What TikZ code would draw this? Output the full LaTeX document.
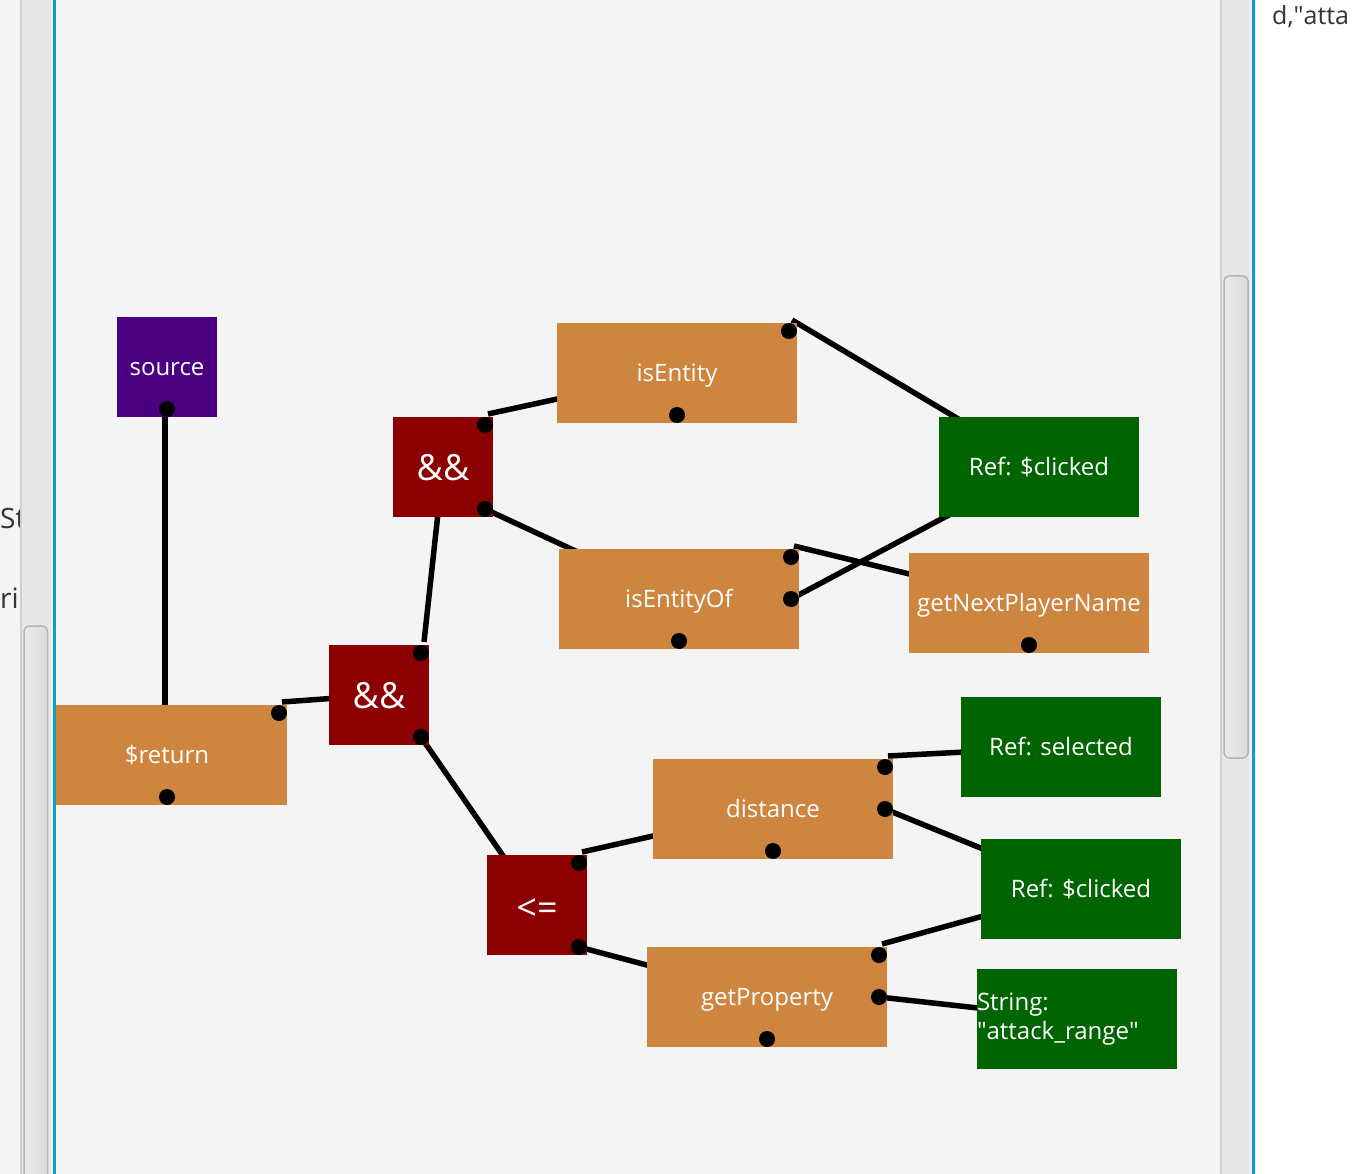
\documentclass[tikz,border=0pt]{standalone}
\usepackage{fontspec}
\setmainfont{Open Sans}
\usetikzlibrary{positioning, calc, backgrounds}

\definecolor{canvasgray}{HTML}{F4F4F4}
\definecolor{fnorange}{HTML}{CD853F}
\definecolor{opred}{HTML}{8B0000}
\definecolor{refgreen}{HTML}{006400}
\definecolor{srcpurple}{HTML}{4B0082}
\definecolor{focusblue}{HTML}{0A9BD0}
\definecolor{trackgray}{HTML}{E7E7E7}
\definecolor{trackedge}{HTML}{D0D0D0}
\definecolor{thumbedge}{HTML}{B4B4B4}
\definecolor{codegray}{HTML}{333333}

\begin{document}
\begin{tikzpicture}[
    x=1pt, y=-1pt,
    every node/.style={text=white, inner sep=0pt, font=\fontsize{24}{29}\selectfont},
    box/.style={rectangle, minimum height=100pt, text height=17pt, text depth=0pt},
    fn/.style ={box, fill=fnorange, minimum width=240pt},
    op/.style ={box, fill=opred, minimum width=100pt,
                font=\fontsize{36}{40}\selectfont, text height=26pt},
    ref/.style={box, fill=refgreen, minimum width=200pt},
    src/.style={box, fill=srcpurple, minimum width=100pt},
    port/.style={circle, fill=black, minimum size=16pt},
    wire/.style={line width=5.5pt, black},
    code/.style={text=codegray, anchor=base west, font=\fontsize{28}{32}\selectfont},
    thumb/.style={draw=thumbedge, line width=1.5pt, rounded corners=5pt,
                  left color=white!92!black, right color=white!86!black}
]
\useasboundingbox (0,0) rectangle (1352,1174);

% canvas
\begin{scope}[on background layer]
\fill[canvasgray] (0,0) rectangle (1254,1174);
\fill[white] (1254,0) rectangle (1352,1174);
\end{scope}

% blocks
\node[src] (source)     at (167, 367)  {source};
\node[op]  (and1)       at (443, 467)  {\&\&};
\node[fn]  (isEntity)   at (677, 373)  {isEntity};
\node[ref] (clicked1)   at (1039, 467) {Ref: \$clicked};
\node[fn]  (isEntityOf) at (679, 599)  {isEntityOf};
\node[fn]  (nextPlayer) at (1029, 603) {getNextPlayerName};
\node[op]  (and2)       at (379, 695)  {\&\&};
\node[fn]  (ret)        at (167, 755)  {\$return};
\node[op, text height=30pt] (le) at (537, 905) {<=};
\node[fn]  (distance)   at (773, 809)  {distance};
\node[ref] (selected)   at (1061, 747) {Ref: selected};
\node[ref] (clicked2)   at (1081, 889) {Ref: \$clicked};
\node[fn]  (getProp)    at (767, 997)  {getProperty};
\node[ref, text width=200pt, align=left, text height={}, text depth={}]
           (rangeStr)   at (1077, 1019) {String:\\\textquotedbl attack\_range\textquotedbl};

% ports
\node[port] (sourceOut)     at (167, 409)  {};
\node[port] (and1A)         at (485, 425)  {};
\node[port] (and1B)         at (485, 509)  {};
\node[port] (isEntityA)     at (789, 331)  {};
\node[port] (isEntityOut)   at (677, 415)  {};
\node[port] (isEntityOfA)   at (791, 557)  {};
\node[port] (isEntityOfB)   at (791, 599)  {};
\node[port] (isEntityOfOut) at (679, 641)  {};
\node[port] (nextPlayerOut) at (1029, 645) {};
\node[port] (and2A)         at (421, 653)  {};
\node[port] (and2B)         at (421, 737)  {};
\node[port] (retA)          at (279, 713)  {};
\node[port] (retOut)        at (167, 797)  {};
\node[port] (leA)           at (579, 863)  {};
\node[port] (leB)           at (579, 947)  {};
\node[port] (distanceA)     at (885, 767)  {};
\node[port] (distanceB)     at (885, 809)  {};
\node[port] (distanceOut)   at (773, 851)  {};
\node[port] (getPropA)      at (879, 955)  {};
\node[port] (getPropB)      at (879, 997)  {};
\node[port] (getPropOut)    at (767, 1039) {};

% wires, under the blocks
\begin{scope}[on background layer]
\draw[wire] ($(sourceOut)+(-2,0)$)      -- ($(ret.center)+(-2,0)$);
\draw[wire] ($(retA)+(3,-11)$)          -- (and2.center);
\draw[wire] ($(and2A)+(3,-11)$)         -- (and1.center);
\draw[wire] (and2B.center)              -- (le.center);
\draw[wire] ($(and1A)+(3,-11)$)         -- (isEntity.center);
\draw[wire] (and1B.center)              -- (isEntityOf.center);
\draw[wire] ($(isEntityA)+(3,-11)$)     -- (clicked1.center);
\draw[wire] ($(isEntityOfA)+(3,-11)$)   -- (nextPlayer.center);
\draw[wire] (isEntityOfB.center)        -- (clicked1.center);
\draw[wire] ($(leA)+(3,-11)$)           -- (distance.center);
\draw[wire] (leB.center)                -- (getProp.center);
\draw[wire] ($(distanceA)+(3,-11)$)     -- (selected.center);
\draw[wire] (distanceB.center)          -- (clicked2.center);
\draw[wire] ($(getPropA)+(3,-11)$)      -- (clicked2.center);
\draw[wire] (getPropB.center)           -- (rangeStr.center);
\end{scope}

% window chrome
\node[code] (leftA) at (0, 528) {Str};
\node[code] (leftB) at (0, 608) {rin};
\node[code, font=\fontsize{25}{30}\selectfont] (rightA) at (1272, 25) {d,\textquotedbl atta};

\fill[trackgray] (20,0) rectangle (51,1174);
\fill[trackedge] (20,0) rectangle (21.5,1174);
\fill[white!95!black] (51,0) rectangle (53,1174);
\fill[focusblue] (53,0) rectangle (55.5,1174);
\draw[thumb] (24,626) rectangle (47.5,1190);

\fill[trackgray] (1220,0) rectangle (1250,1174);
\fill[trackedge] (1220,0) rectangle (1221.5,1174);
\fill[white!95!black] (1250,0) rectangle (1252,1174);
\fill[focusblue] (1252,0) rectangle (1254.5,1174);
\draw[thumb] (1224,276) rectangle (1248,758);
\end{tikzpicture}
\end{document}
